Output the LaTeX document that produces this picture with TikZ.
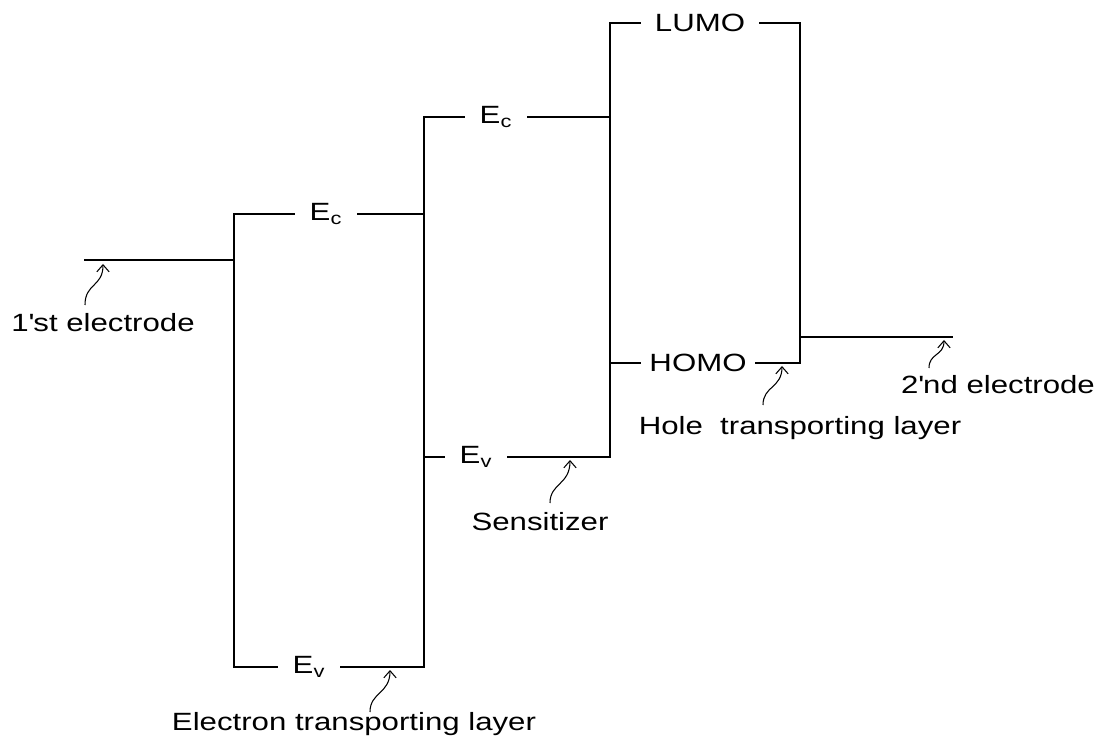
\documentclass[tikz,border=0pt]{standalone}
\usepackage{fontspec}
\setmainfont[FakeStretch=1.25]{Liberation Sans}
\usetikzlibrary{arrows.meta}

\tikzset{
  level/.style={line width=1.6pt,line cap=rect},
  wall/.style={line width=1.1pt,line cap=rect},
  lvllabel/.style={inner xsep=0.32cm,inner ysep=0pt},
  caption/.style={inner sep=0pt},
  pointer/.style={line width=0.6pt,-{Straight Barb[length=4pt,width=7pt]}},
}

\begin{document}
\begin{tikzpicture}[x=0.02cm,y=-0.02cm,font=\fontsize{14.2}{17}\selectfont]
		\useasboundingbox (0,0) rectangle (1109,749);
		% corners of the bands
		\coordinate (el1-w) at (85,260);
		\coordinate (el1-e) at (234,260);
		\coordinate (etl-nw) at (234,214);
		\coordinate (etl-ne) at (424,214);
		\coordinate (etl-sw) at (234,667);
		\coordinate (etl-se) at (424,667);
		\coordinate (sen-nw) at (424,117);
		\coordinate (sen-ne) at (610,117);
		\coordinate (sen-sw) at (424,457);
		\coordinate (sen-se) at (610,457);
		\coordinate (htl-nw) at (610,23);
		\coordinate (htl-ne) at (800,23);
		\coordinate (htl-sw) at (610,363);
		\coordinate (htl-se) at (800,363);
		\coordinate (el2-w) at (800,337);
		\coordinate (el2-e) at (952,337);
		% level names
		\node[lvllabel] (etl-ec) at (326,214) {E\textsubscript{c}};
		\node[lvllabel] (etl-ev) at (309,667) {E\textsubscript{v}};
		\node[lvllabel] (sen-ec) at (496,117) {E\textsubscript{c}};
		\node[lvllabel] (sen-ev) at (476,457) {E\textsubscript{v}};
		\node[lvllabel,inner xsep=0.3cm] (htl-lumo) at (700,23) {LUMO};
		\node[lvllabel,inner xsep=0.2cm] (htl-homo) at (698,363) {HOMO};
		% levels
		\draw[level] (el1-w) -- (el1-e);
		\draw[level] (etl-nw) -- (etl-ec) -- (etl-ne);
		\draw[level] (etl-sw) -- (etl-ev) -- (etl-se);
		\draw[level] (sen-nw) -- (sen-ec) -- (sen-ne);
		\draw[level] (sen-sw) -- (sen-ev) -- (sen-se);
		\draw[level] (htl-nw) -- (htl-lumo) -- (htl-ne);
		\draw[level] (htl-sw) -- (htl-homo) -- (htl-se);
		\draw[level] (el2-w) -- (el2-e);
		\draw[wall] (etl-nw) -- (etl-sw);
		\draw[wall] (sen-nw) -- (etl-se);
		\draw[wall] (htl-nw) -- (sen-se);
		\draw[wall] (htl-ne) -- (htl-se);
		% captions
		\node[caption] (lbl-el1) at (103,323) {1\textquotesingle st electrode};
		\node[caption] (lbl-etl) at (354,724) {Electron transporting layer};
		\node[caption] (lbl-sen) at (540,522) {Sensitizer};
		\node[caption] (lbl-htl) at (800,428) {Hole\ \ transporting layer};
		\node[caption] (lbl-el2) at (998,385) {2\textquotesingle nd electrode};
		% pointers
		\coordinate (el1-foot) at (85,305);
		\coordinate (el1-tip) at (103,264);
		\coordinate (etl-foot) at (370,712);
		\coordinate (etl-tip) at (390,670);
		\coordinate (sen-foot) at (550,503);
		\coordinate (sen-tip) at (570,460);
		\coordinate (htl-foot) at (763,405);
		\coordinate (htl-tip) at (782,366);
		\coordinate (el2-foot) at (929,368);
		\coordinate (el2-tip) at (944,340);
		\draw[pointer] (el1-foot) .. controls (85,283) and (103,287) .. (el1-tip);
		\draw[pointer] (etl-foot) .. controls (370,692) and (390,694) .. (etl-tip);
		\draw[pointer] (sen-foot) .. controls (550,483) and (570,485) .. (sen-tip);
		\draw[pointer] (htl-foot) .. controls (763,386) and (782,388) .. (htl-tip);
		\draw[pointer] (el2-foot) .. controls (929,353) and (944,356) .. (el2-tip);
	\end{tikzpicture}
\end{document}
